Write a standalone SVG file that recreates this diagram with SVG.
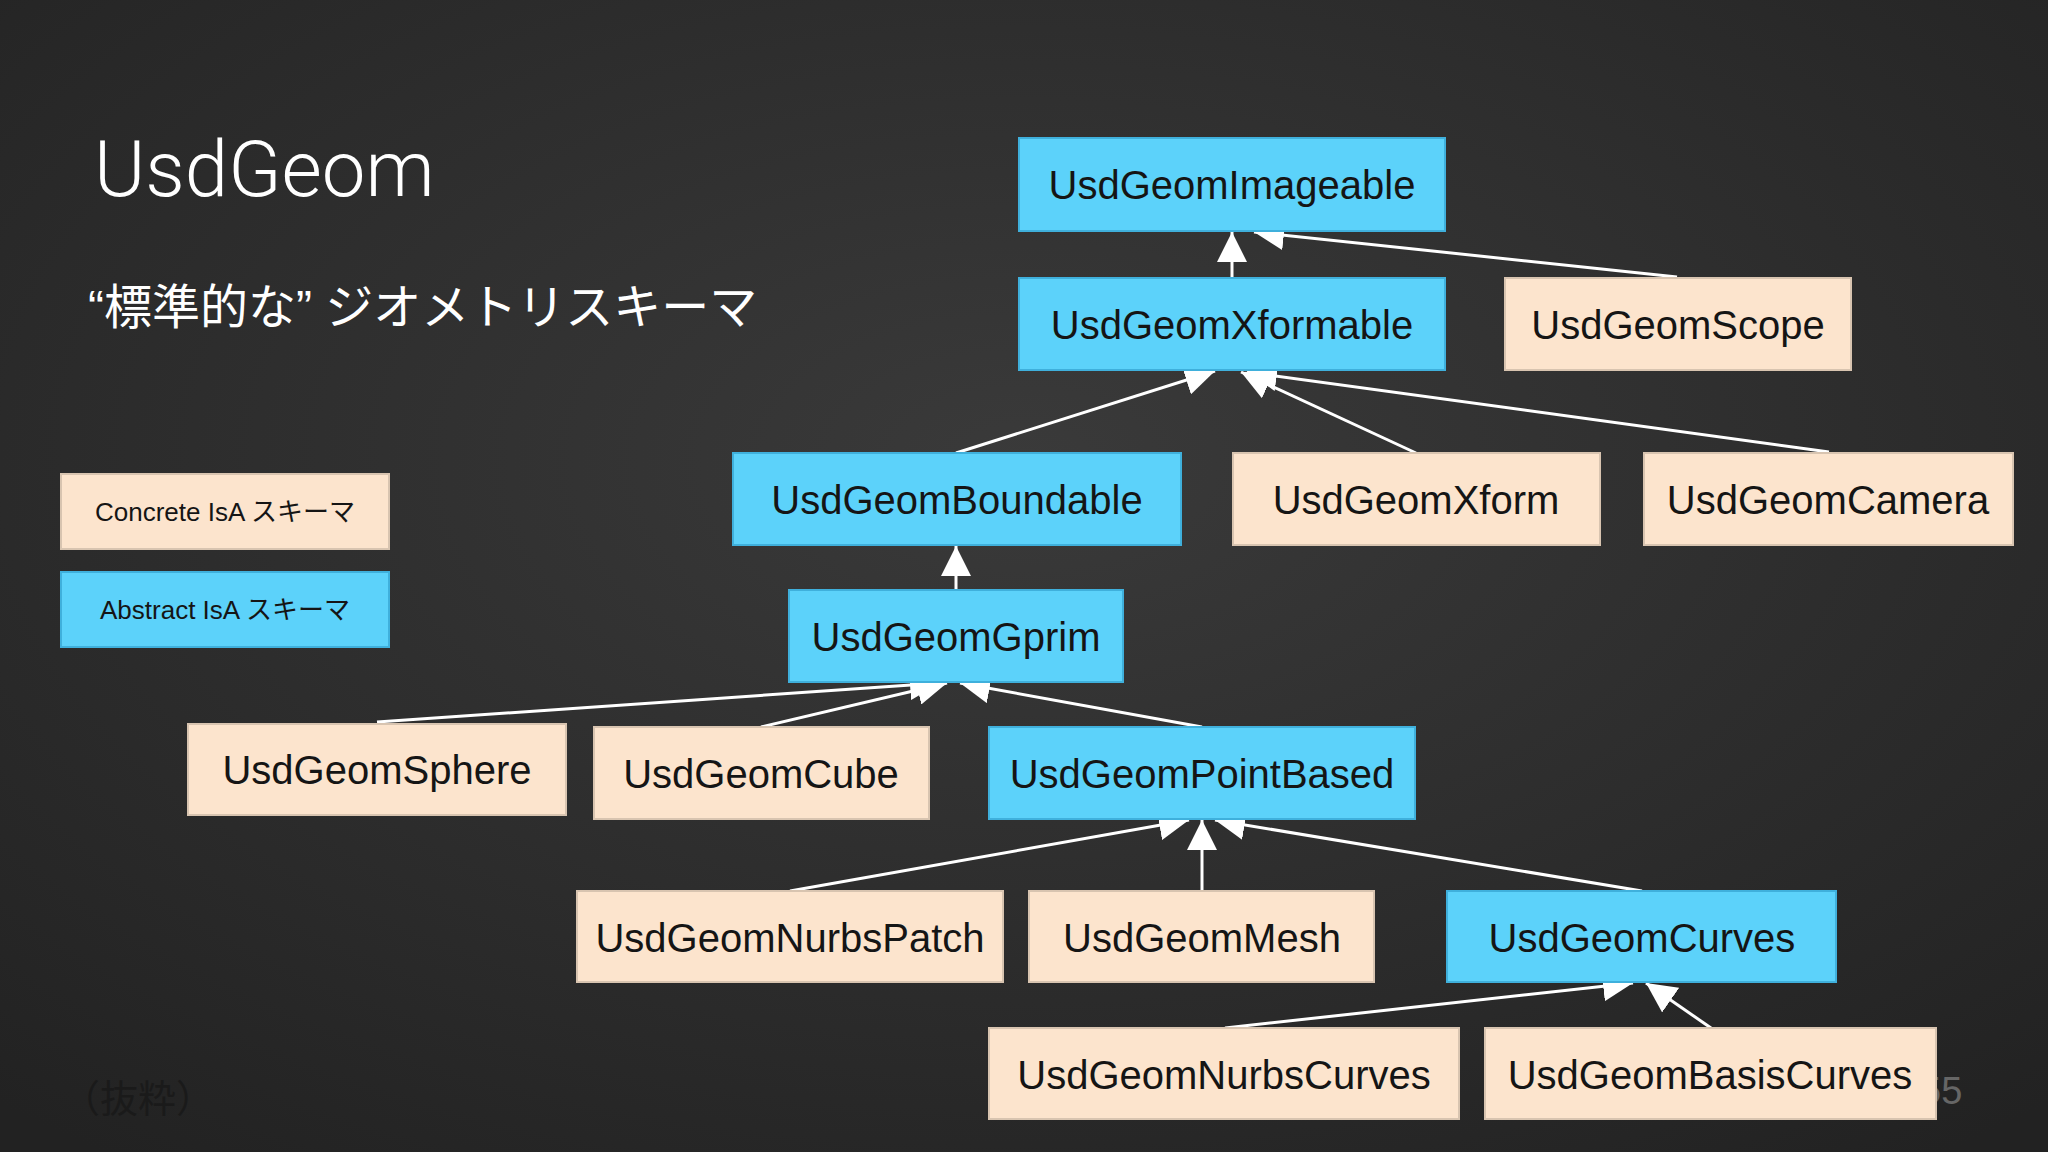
<svg xmlns="http://www.w3.org/2000/svg" width="2048" height="1152" viewBox="0 0 2048 1152">
<defs>
<style>
.c{fill:#fce4cd;stroke:#d8c4b0;stroke-width:2}
.a{fill:#5cd2fa;stroke:#3fb0dc;stroke-width:2}
.t{font-family:"Liberation Sans",Arial,sans-serif;font-size:40px;fill:#151515;text-anchor:middle}
.l{font-family:"Liberation Sans","Noto Sans CJK JP",sans-serif;font-size:26px;fill:#151515;text-anchor:middle}
.e{stroke:#fff;stroke-width:3;fill:none;marker-end:url(#ar)}
</style>
<marker id="ar" viewBox="0 0 10 10" refX="10" refY="5" markerWidth="30" markerHeight="30" markerUnits="userSpaceOnUse" orient="auto"><path d="M0,0L10,5L0,10z" fill="#fff"/></marker>
<radialGradient id="bg" cx="50%" cy="40%" r="75%"><stop offset="0" stop-color="#3a3a3a"/><stop offset="1" stop-color="#222"/></radialGradient>
</defs>
<rect width="2048" height="1152" fill="url(#bg)"/>
<text x="94" y="196" font-family="Roboto,'Liberation Sans',sans-serif" font-size="78" font-weight="300" fill="#fff">UsdGeom</text>
<text x="88" y="324" font-family="'Liberation Sans','Noto Sans CJK JP',sans-serif" font-size="48" fill="#fff">“標準的な” ジオメトリスキーマ</text>
<text x="62" y="1112" font-family="'Liberation Sans','Noto Sans CJK JP',sans-serif" font-size="38" fill="#1a1a1a">（抜粋）</text>
<text x="1920" y="1104" font-family="'Liberation Sans',sans-serif" font-size="38" fill="#666">55</text>
<g id="edges">
<line class="e" x1="1232" y1="278" x2="1232" y2="232"/>
<line class="e" x1="1677" y1="277" x2="1254" y2="232"/>
<line class="e" x1="956" y1="453" x2="1215" y2="371"/>
<line class="e" x1="1416" y1="453" x2="1241" y2="372"/>
<line class="e" x1="1829" y1="452" x2="1247" y2="372"/>
<line class="e" x1="956" y1="590" x2="956" y2="546"/>
<line class="e" x1="377" y1="722" x2="940" y2="683"/>
<line class="e" x1="761" y1="727" x2="947" y2="683"/>
<line class="e" x1="1202" y1="727" x2="960" y2="683"/>
<line class="e" x1="790" y1="891" x2="1189" y2="820"/>
<line class="e" x1="1202" y1="891" x2="1202" y2="820"/>
<line class="e" x1="1642" y1="891" x2="1215" y2="820"/>
<line class="e" x1="1225" y1="1028" x2="1633" y2="983"/>
<line class="e" x1="1711" y1="1028" x2="1646" y2="983"/>
</g>
<g id="legend-concrete"><rect class="c" x="61" y="474" width="328" height="75"/><text class="l" x="225" y="521">Concrete IsA スキーマ</text></g>
<g id="legend-abstract"><rect class="a" x="61" y="572" width="328" height="75"/><text class="l" x="225" y="619">Abstract IsA スキーマ</text></g>
<g id="imageable"><rect class="a" x="1019" y="138" width="426" height="93"/><text class="t" x="1232" y="199">UsdGeomImageable</text></g>
<g id="xformable"><rect class="a" x="1019" y="278" width="426" height="92"/><text class="t" x="1232" y="339">UsdGeomXformable</text></g>
<g id="scope"><rect class="c" x="1505" y="278" width="346" height="92"/><text class="t" x="1678" y="339">UsdGeomScope</text></g>
<g id="boundable"><rect class="a" x="733" y="453" width="448" height="92"/><text class="t" x="957" y="514">UsdGeomBoundable</text></g>
<g id="xform"><rect class="c" x="1233" y="453" width="367" height="92"/><text class="t" x="1416" y="514">UsdGeomXform</text></g>
<g id="camera"><rect class="c" x="1644" y="453" width="369" height="92"/><text class="t" x="1828" y="514">UsdGeomCamera</text></g>
<g id="gprim"><rect class="a" x="789" y="590" width="334" height="92"/><text class="t" x="956" y="651">UsdGeomGprim</text></g>
<g id="sphere"><rect class="c" x="188" y="724" width="378" height="91"/><text class="t" x="377" y="784">UsdGeomSphere</text></g>
<g id="cube"><rect class="c" x="594" y="727" width="335" height="92"/><text class="t" x="761" y="788">UsdGeomCube</text></g>
<g id="pointbased"><rect class="a" x="989" y="727" width="426" height="92"/><text class="t" x="1202" y="788">UsdGeomPointBased</text></g>
<g id="nurbspatch"><rect class="c" x="577" y="891" width="426" height="91"/><text class="t" x="790" y="952">UsdGeomNurbsPatch</text></g>
<g id="mesh"><rect class="c" x="1029" y="891" width="345" height="91"/><text class="t" x="1202" y="952">UsdGeomMesh</text></g>
<g id="curves"><rect class="a" x="1447" y="891" width="389" height="91"/><text class="t" x="1642" y="952">UsdGeomCurves</text></g>
<g id="nurbscurves"><rect class="c" x="989" y="1028" width="470" height="91"/><text class="t" x="1224" y="1089">UsdGeomNurbsCurves</text></g>
<g id="basiscurves"><rect class="c" x="1485" y="1028" width="451" height="91"/><text class="t" x="1710" y="1089">UsdGeomBasisCurves</text></g>
</svg>
